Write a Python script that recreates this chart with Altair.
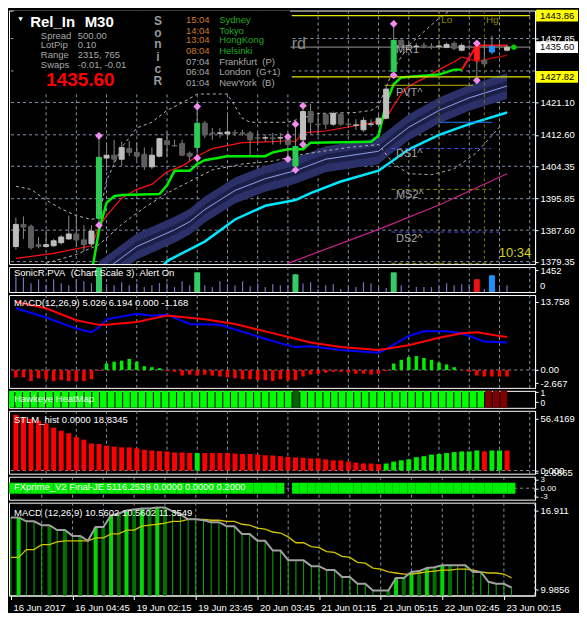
import altair as alt
import pandas as pd

W = 527
HM, HP, HMC, HH, HS, HF, HM2 = 254, 25, 93, 17, 63, 23, 93
XDOM = [-0.25, 68.05]
FONT = "Liberation Sans"
FS = 9.5
GRIDC = "#8796aa"
DASH = [3, 3]

# ---------------- data ----------------
bars = list(range(66))
date_ticks = [0, 8, 16, 24, 32, 40, 48, 56, 64]
date_labels = ["16 Jun 2017", "16 Jun 04:45", "19 Jun 02:15", "19 Jun 23:45",
               "20 Jun 03:45", "21 Jun 01:15", "21 Jun 05:15", "22 Jun 02:45", "23 Jun 00:15"]
grid_bars = list(range(4, 69, 4))
price_ticks = [1437.85, 1421.10, 1412.60, 1404.35, 1395.85, 1387.60, 1379.35]
grid_prices = [1437.85, 1429.35, 1421.10, 1412.60, 1404.35, 1395.85, 1387.60, 1379.35]

c_open = [1383.3, 1389.1, 1388.6, 1383.8, 1383.3, 1383.5, 1384.3, 1385.3, 1386.6, 1385.05,
          1384.0, 1390.7, 1406.5, 1407.25, 1406.2, 1409.0, 1408.0, 1407.5, 1404.2, 1407.0,
          1411.05, 1409.8, 1410.3, 1407.75, 1409.3, 1415.65, 1413.1, 1413.0, 1412.85, 1413.15,
          1413.1, 1413.1, 1411.8, 1411.75, 1411.8, 1411.75, 1411.6, 1404.4, 1411.3, 1418.7,
          1415.4, 1417.95, 1415.4, 1417.95, 1415.4, 1415.1, 1413.9, 1415.35, 1415.4, 1416.95,
          1429.2, 1437.35, 1436.05, 1435.75, 1436.05, 1435.8, 1435.8, 1435.55, 1436.6, 1434.8,
          1435.8, 1435.8, 1432.2, 1434.3, 1435.8, 1434.8]
c_high = [1390.9, 1391.2, 1389.1, 1385.8, 1387.6, 1385.3, 1386.3, 1391.4, 1391.4, 1388.9,
          1388.9, 1412.35, 1410.05, 1411.3, 1410.8, 1411.05, 1410.55, 1409.3, 1409.3, 1411.8,
          1413.35, 1411.3, 1411.3, 1408.25, 1420.0, 1416.2, 1414.4, 1414.4, 1417.95, 1413.9,
          1413.9, 1413.6, 1413.1, 1412.6, 1413.1, 1413.1, 1412.1, 1415.4, 1420.25, 1420.75,
          1417.95, 1418.2, 1418.7, 1418.45, 1416.7, 1416.7, 1417.2, 1416.7, 1418.2, 1425.35,
          1441.7, 1437.85, 1436.8, 1436.6, 1436.8, 1436.6, 1436.6, 1436.8, 1437.1, 1436.6,
          1436.3, 1436.6, 1437.35, 1438.6, 1437.6, 1436.3]
c_low = [1382.5, 1385.3, 1382.5, 1382.8, 1383.0, 1383.3, 1383.8, 1385.05, 1383.3, 1382.0,
         1383.3, 1388.9, 1403.2, 1405.2, 1404.4, 1407.0, 1405.95, 1403.4, 1403.65, 1406.7,
         1407.0, 1409.5, 1407.0, 1405.7, 1406.5, 1411.8, 1411.3, 1411.8, 1411.3, 1412.35,
         1412.35, 1407.0, 1410.55, 1410.8, 1410.05, 1410.05, 1406.2, 1403.4, 1410.05, 1412.6,
         1412.6, 1414.1, 1414.9, 1414.9, 1414.4, 1413.9, 1413.35, 1414.65, 1415.15, 1416.7,
         1428.2, 1435.55, 1435.3, 1435.05, 1435.3, 1435.05, 1435.3, 1435.3, 1434.8, 1434.5,
         1435.05, 1426.9, 1430.7, 1433.75, 1434.8, 1434.5]
c_close = [1389.1, 1388.4, 1383.0, 1383.3, 1383.8, 1384.8, 1385.8, 1386.6, 1385.05, 1383.8,
           1387.35, 1406.7, 1407.25, 1406.2, 1409.3, 1408.0, 1407.0, 1404.2, 1407.25, 1411.6,
           1410.05, 1409.7, 1407.25, 1407.0, 1415.65, 1412.6, 1413.0, 1413.1, 1413.35, 1413.05,
           1413.0, 1411.3, 1411.7, 1411.85, 1411.6, 1411.85, 1410.05, 1409.55, 1418.7, 1415.9,
           1415.3, 1415.4, 1418.2, 1415.4, 1415.3, 1415.2, 1416.4, 1415.45, 1416.95, 1424.6,
           1437.35, 1436.05, 1435.9, 1435.85, 1435.9, 1435.7, 1435.9, 1436.3, 1435.3, 1436.05,
           1435.7, 1432.2, 1431.2, 1435.8, 1435.7, 1435.6]
c_kind = ["bull", "bear", "bear", "bear", "bull", "bull", "bull", "bull", "bear", "bear",
          "bull", "green", "bull", "bear", "bull", "bear", "bear", "bear", "bull", "bull",
          "bear", "bear", "bear", "bear", "green", "bear", "bear", "bull", "bull", "bear",
          "bear", "bear", "bear", "bull", "bear", "bull", "bear", "green", "bull", "bear",
          "bear", "bear", "bull", "bear", "bear", "bull", "bull", "bull", "bull", "bull",
          "green", "bear", "bear", "bull", "bear", "bear", "bull", "bull", "bear", "bull",
          "bear", "red", "bear", "blue", "bear", "bull"]

dia_bars = [11, 11, 24, 24, 36, 36, 37, 37, 38, 38, 50, 50, 61, 61]
dia_prices = [1412.35, 1388.9, 1420.0, 1406.5, 1412.1, 1406.2, 1415.4, 1403.4,
              1420.25, 1410.05, 1441.7, 1428.2, 1436.6, 1426.9]

red_x = [0, 5, 10, 11, 12, 14, 16, 18, 20, 22, 24, 26, 30, 34, 36, 37, 38, 41, 44, 47,
         49, 50, 51, 52, 54, 56, 58, 59, 60]
red_v = [1380.2, 1381.5, 1383.5, 1388.4, 1391.4, 1396.0, 1398.3, 1399.6, 1402.9, 1404.4,
         1407.0, 1409.0, 1410.55, 1410.8, 1411.05, 1410.8, 1413.1, 1413.6, 1414.65, 1415.65,
         1416.95, 1420.25, 1423.3, 1425.35, 1427.4, 1429.7, 1431.75, 1433.0, 1432.5]
darkred_x = [60, 61, 62, 63, 64, 65]
darkred_v = [1432.5, 1431.75, 1432.25, 1432.75, 1433.0, 1433.5]
green_x = [10, 11, 12, 13, 14, 19, 20, 21, 23, 24, 25, 28, 33, 34, 36, 38, 39, 47, 48, 49,
           50, 51, 56, 58, 59]
green_v = [1376.0, 1387.6, 1394.75, 1396.5, 1396.8, 1397.05, 1399.35, 1403.15, 1403.15, 1404.95,
           1405.95, 1407.0, 1407.0, 1408.0, 1408.8, 1408.8, 1410.55, 1410.8, 1412.35, 1421.0,
           1425.85, 1427.65, 1428.4, 1429.7, 1429.7]
trail_x = [59, 61, 65]
trail_v = [1429.7, 1436.05, 1436.05]
cyan_x = [19, 20, 25, 29, 33, 37, 39, 43, 48, 52, 56, 60, 65]
cyan_v = [1377.0, 1379.5, 1384.6, 1390.4, 1394.0, 1395.5, 1397.3, 1400.35, 1403.2, 1408.8,
          1412.6, 1415.4, 1418.45]
magenta_x = [36, 48, 56, 65]
magenta_v = [1378.9, 1387.8, 1394.2, 1402.4]
band_x = [11, 13, 16, 21, 23, 25, 29, 33, 37, 41, 48, 49, 52, 56, 60, 65]
band_c = [1376.0, 1378.9, 1383.3, 1387.7, 1389.8, 1393.0, 1398.0, 1401.1, 1403.2, 1406.2,
          1408.3, 1410.0, 1414.6, 1419.0, 1422.3, 1425.4]
bb_up_x = [0, 2, 4, 6, 8, 10, 11, 12, 14, 16, 18, 20, 22, 24, 28, 30, 31, 36, 40, 45,
           47, 48, 50, 52, 56, 58]
bb_up_v = [1399.1, 1398.3, 1395.5, 1393.2, 1391.4, 1390.4, 1390.9, 1400.6, 1409.3, 1414.4,
           1415.9, 1419.0, 1421.0, 1423.3, 1423.3, 1416.9, 1415.9, 1415.9, 1418.2, 1418.45,
           1419.0, 1420.25, 1429.95, 1436.1, 1443.2, 1446.0]
bb_lo_x = [4, 8, 11, 14, 17, 20, 23, 26, 30, 34, 38, 44, 48, 50, 52, 55, 58, 61, 64]
bb_lo_v = [1378.9, 1381.2, 1383.8, 1389.1, 1393.5, 1397.3, 1400.35, 1403.4, 1404.95, 1405.7,
           1407.5, 1409.3, 1410.05, 1404.95, 1402.4, 1402.15, 1403.65, 1408.0, 1414.65]

lvl_solid_x1 = [36.5, 36.3, 36.5, 48.8, 56.0]
lvl_solid_x2 = [68.05, 68.05, 68.05, 60.5, 63.0]
lvl_solid_y = [1443.86, 1435.60, 1427.82, 1425.6, 1415.9]
lvl_solid_c = ["#e6e600", "#7a7a7a", "#e6e600", "#b4b400", "#1e7cff"]
lvl_dash_x1 = [49.7, 49.7, 49.7, 49.7]
lvl_dash_x2 = [62.9, 62.9, 63.9, 62.9]
lvl_dash_y = [1409.0, 1398.3, 1387.1, 1378.9]
lvl_dash_c = ["#4a4ae0", "#8b8b00", "#4a4ae0", "#8b8b00"]
olive_v_bars = [56, 62]

tag_p = [1443.86, 1435.60, 1427.82]
tag_bg = ["#ffff00", "#ffffff", "#ffff00"]

vol = [1040, 975, 585, 845, 455, 845, 585, 455, 845, 715,
       585, 1640, 520, 455, 650, 455, 585, 325, 455, 585,
       585, 325, 715, 455, 1300, 455, 325, 715, 520, 455,
       715, 390, 585, 325, 520, 455, 455, 1170, 585, 650,
       195, 455, 520, 195, 325, 325, 650, 585, 325, 260,
       1300, 455, 130, 325, 325, 325, 390, 585, 455, 520,
       520, 845, 195, 1105, 325, 455]
pva_big_bars = [11, 24, 37, 50, 61, 63]
pva_big_colors = ["#33cc66", "#33cc66", "#33cc66", "#33cc66", "#ee1111", "#1e90ff"]

macd_hist = [-1.49, -1.49, -2.24, -1.68, -1.87, -2.24, -2.05, -2.24, -2.24, -2.24,
             -1.87, -0.2, 1.31, 1.68, 1.87, 2.24, 1.68, 0.75, 0.56, 0.37,
             -0.19, -0.37, -1.12, -0.93, -1.12, -0.93, -1.12, -1.31, -1.49, -1.68,
             -1.87, -1.87, -2.05, -2.05, -2.24, -1.87, -2.05, -2.05, -1.31, -0.93,
             -0.75, -0.56, -0.37, -0.37, -0.56, -0.75, -0.75, -0.93, -0.75, -0.19,
             1.31, 2.05, 2.61, 2.80, 2.43, 2.05, 1.49, 1.12, 0.56, -0.1,
             -0.37, -1.12, -1.31, -1.31, -1.31, -1.31]
macd_red_x = [0, 4, 8, 11, 12, 16, 20, 25, 29, 33, 37, 39, 43, 48, 52, 56, 59, 61, 64, 65]
macd_red_v = [13.73, 12.44, 10.02, 9.09, 9.09, 9.65, 10.95, 10.21, 9.27, 7.78, 6.29, 5.54,
              4.61, 4.05, 4.98, 6.48, 7.41, 7.59, 6.85, 6.66]
macd_blue_x = [0, 4, 8, 10, 11, 12, 16, 18, 20, 23, 27, 31, 35, 37, 39, 43, 48, 49, 52, 54,
               57, 59, 62, 65]
macd_blue_v = [12.44, 10.58, 8.34, 7.6, 8.6, 10.21, 11.33, 10.95, 11.14, 9.27, 9.09, 7.22,
               5.36, 4.61, 4.8, 4.05, 3.49, 4.2, 6.85, 7.78, 7.78, 7.41, 5.73, 5.54]

heat_bars = list(range(65))
heat_dark_green = [37]
heat_dark_red = [62, 63, 64]

stlm = [60.5, 58.1, 56.4, 54.3, 51.2, 46.7, 43.3, 40.5, 36.3, 33.5,
        29.4, 28.8, 27.0, 26.0, 25.2, 25.2, 24.2, 22.5, 21.8, 21.1,
        20.8, 19.7, 19.7, 19.0, 19.0, 19.0, 19.0, 19.0, 19.0, 18.4,
        18.0, 18.0, 17.3, 16.6, 16.3, 15.6, 14.8, 14.2, 13.8, 13.2,
        13.2, 12.1, 11.1, 11.1, 9.7, 8.6, 7.6, 7.6, 7.0, 7.6,
        9.7, 11.1, 12.1, 14.5, 15.6, 17.3, 18.0, 19.0, 20.0, 20.8,
        20.8, 21.8, 20.8, 21.8, 21.8, 21.8]
stlm_green = [24, 49, 50, 51, 52, 53, 54, 55, 56, 57, 58, 59, 60, 61, 63, 64]

fx_bars = list(range(0, 36)) + list(range(37, 66))

m2_main = [16.31, 16.31, 15.97, 15.97, 15.63, 15.63, 15.20, 15.20, 14.69, 14.69,
           14.26, 15.46, 15.46, 16.48, 16.65, 16.91, 17.0, 17.08, 17.08, 17.17,
           17.17, 16.83, 16.57, 16.14, 16.14, 16.06, 15.89, 15.89, 15.54, 15.54,
           14.86, 14.86, 14.26, 14.26, 13.41, 13.41, 12.55, 12.55, 12.55, 12.04,
           12.04, 11.70, 11.70, 11.10, 11.10, 10.50, 10.50, 9.90, 9.90, 9.90,
           11.01, 11.01, 11.53, 11.61, 11.87, 11.95, 12.12, 12.12, 12.12, 12.12,
           11.53, 11.53, 10.67, 10.50, 10.50, 10.16]
m2_signal = [12.81, 12.81, 13.49, 13.49, 13.92, 13.92, 14.17, 14.26, 14.26, 14.26,
             14.26, 14.52, 14.52, 14.86, 14.86, 15.20, 15.20, 15.54, 15.63, 15.71,
             15.80, 15.97, 15.97, 16.14, 16.14, 16.14, 16.06, 16.06, 15.97, 15.97,
             15.71, 15.63, 15.37, 15.29, 15.03, 14.94, 14.60, 14.09, 14.09, 13.75,
             13.66, 13.32, 13.24, 12.89, 12.81, 12.38, 12.30, 11.87, 11.78, 11.53,
             11.44, 11.35, 11.35, 11.44, 11.53, 11.61, 11.70, 11.70, 11.78, 11.78,
             11.70, 11.53, 11.44, 11.44, 11.35, 11.01]
m2_thick_bright = [1, 11, 13, 15, 17, 19, 50, 52, 54, 56]
m2_thick_dark = [5, 7, 9, 12, 14, 16, 18, 20, 49, 51, 53, 55, 57]

info_x = [1.9, 9.1, 3.3, 8.2, 3.3, 8.2, 3.3, 8.2, 3.3, 8.2, 36.5,
          50.3, 50.3, 50.3, 50.3, 50.3, 56.3, 62.2, 63.9,
          22.5, 22.5, 22.5, 22.5, 22.5, 22.5, 22.5,
          26.9, 26.9, 26.9, 26.9, 26.9, 26.9, 26.9]
info_y = [1442.3, 1442.3, 1438.6, 1438.6, 1436.05, 1436.05, 1433.5, 1433.5, 1430.95, 1430.95, 1436.3,
          1434.8, 1423.55, 1407.5, 1396.8, 1385.3, 1442.7, 1442.7, 1381.5,
          1442.7, 1439.9, 1437.35, 1434.55, 1431.75, 1428.95, 1426.1,
          1442.7, 1439.9, 1437.35, 1434.55, 1431.75, 1428.95, 1426.1]
info_t = ["Rel_In", "M30", "Spread", "500.00", "LotPip", "0.10", "Range", "2315, 765",
          "Swaps", "-0.01, -0.01", "rd",
          "MR1", "PVT^", "DS1^", "MS2^", "DS2^", "Lo", "Hg", "10:34",
          "15:04", "14:04", "13:04", "08:04", "07:04", "06:04", "01:04",
          "Sydney", "Tokyo", "HongKong", "Helsinki", "Frankfurt\u00a0\u00a0(P)",
          "London\u00a0\u00a0(G+1)", "NewYork\u00a0\u00a0(B)"]
sonic_letters = ["S", "o", "n", "i", "c", "R"]
sonic_y = [1442.45, 1439.4, 1436.3, 1433.0, 1429.95, 1426.6]


# ---------------- axes & helpers ----------------
def raxis(values, expr=None, fmt=None, size=FS):
    kw = dict(orient="right", values=values, title=None, grid=False, labelColor="white",
              labelFont=FONT, labelFontSize=size, tickColor="white", tickSize=3,
              domainColor="white", labelPadding=2, labelOverlap=False, labelFlush=False)
    if expr:
        kw["labelExpr"] = expr
    if fmt:
        kw["format"] = fmt
    return alt.Axis(**kw)


XAXIS = alt.Axis(values=date_ticks, title=None, grid=False, orient="bottom",
                 labelExpr="[" + ",".join(f"'{d}'" for d in date_labels) + "][round(datum.value / 8)]",
                 labelAlign="left", labelColor="white", labelFont=FONT, labelFontSize=FS,
                 tickColor="white", tickSize=4, domainColor="white", labelPadding=3,
                 labelFlush=False, labelOverlap=False, labelOffset=2)

DOMS = {
    "main": [1378.7, 1445.2], "pva": [0, 1650], "macd": [-3.6, 15.1], "heat": [-0.6, 1.15],
    "stlm": [-3.5, 65.0], "fx": [-4.2, 4.2], "m2": [9.47, 17.6],
}
AXES = {
    "main": raxis(price_ticks, fmt=".2f"),
    "pva": raxis([1452], expr="'1452'"),
    "macd": raxis([13.758, 0, -2.667],
                  expr="datum.value == 0 ? '0.00' : (datum.value > 0 ? '13.758' : '-2.667')"),
    "heat": raxis([1, 0], expr="datum.value > 0.5 ? '1' : '0'", size=8.5),
    "stlm": raxis([56.4169, 0, -2.6865],
                  expr="datum.value == 0 ? '0.000' : (datum.value > 0 ? '56.4169' : '-2.6865')"),
    "fx": raxis([3, 0, -3], expr="datum.value == 0 ? '0.00' : (datum.value > 0 ? '3' : '-3')",
                size=8),
    "m2": raxis([16.911, 9.9856], expr="datum.value > 13 ? '16.911' : '9.9856'"),
}


def xq(field, panel):
    return alt.X(f"{field}:Q", scale=alt.Scale(domain=XDOM, nice=False, zero=False),
                 axis=XAXIS if panel == "m2" else None)


def yq(field, panel):
    return alt.Y(f"{field}:Q", scale=alt.Scale(domain=DOMS[panel], nice=False, zero=False),
                 axis=AXES[panel])


def vgrid(panel):
    return alt.Chart(pd.DataFrame({"g": grid_bars})).mark_rule(
        color=GRIDC, strokeDash=DASH, strokeWidth=1).encode(x=xq("g", panel))


def line(xs, vs, color, width, panel="main", dash=None):
    kw = dict(color=color, strokeWidth=width, clip=True)
    if dash:
        kw["strokeDash"] = dash
    return alt.Chart(pd.DataFrame({"bar": xs, "v": vs})).mark_line(**kw).encode(
        x=xq("bar", panel), y=yq("v", panel))


def zline(panel):
    return alt.Chart(pd.DataFrame({"z": [0]})).mark_rule(
        color="#8c8c8c", strokeDash=DASH).encode(y=yq("z", panel))


def ptitle(text, y):
    return alt.Chart(pd.DataFrame({"t": [text]})).mark_text(
        align="left", baseline="middle", font=FONT, fontSize=FS, color="white").encode(
        x=alt.value(5), y=alt.value(y), text="t:N")


# ---------------- main panel ----------------
P = "main"
hgrid = alt.Chart(pd.DataFrame({"p": grid_prices})).mark_rule(
    color=GRIDC, strokeDash=DASH, strokeWidth=1).encode(y=yq("p", P))

bdf = pd.DataFrame({"bar": band_x, "c": band_c})
bdf["lo"] = bdf.c - 3.4
bdf["hi"] = bdf.c + 3.4
bdf["lo2"] = bdf.c - 1.3
bdf["hi2"] = bdf.c + 1.3
band_out = alt.Chart(bdf).mark_area(color="#2b3068", clip=True).encode(
    x=xq("bar", P), y=yq("lo", P), y2=alt.Y2("hi"))
band_in = alt.Chart(bdf).mark_area(color="#1b1e45", clip=True).encode(
    x=xq("bar", P), y=yq("lo2", P), y2=alt.Y2("hi2"))
band_mid = alt.Chart(bdf).mark_line(color="#8fa2f0", strokeWidth=1, clip=True).encode(
    x=xq("bar", P), y=yq("c", P))

sdf = pd.DataFrame({"x1": lvl_solid_x1, "x2": lvl_solid_x2, "y": lvl_solid_y, "c": lvl_solid_c})
solid_lv = alt.Chart(sdf).mark_rule(strokeWidth=1.2, clip=True).encode(
    x=xq("x1", P), x2=alt.X2("x2"), y=yq("y", P), color=alt.Color("c:N", scale=None))
ddf = pd.DataFrame({"x1": lvl_dash_x1, "x2": lvl_dash_x2, "y": lvl_dash_y, "c": lvl_dash_c})
dash_lv = alt.Chart(ddf).mark_rule(strokeWidth=1, strokeDash=[4, 3], clip=True).encode(
    x=xq("x1", P), x2=alt.X2("x2"), y=yq("y", P), color=alt.Color("c:N", scale=None))
olive_v = alt.Chart(pd.DataFrame({"b": olive_v_bars})).mark_rule(
    color="#7a7a00", strokeDash=DASH, strokeWidth=1).encode(x=xq("b", P))

cdf = pd.DataFrame({"bar": bars, "o": c_open, "h": c_high, "l": c_low, "c": c_close, "k": c_kind})
kind_scale = alt.Scale(domain=["bull", "bear", "green", "red", "blue"],
                       range=["#bdbdbd", "#5e5e5e", "#2ecc55", "#ff1a1a", "#1e90ff"])
wicks = alt.Chart(cdf).mark_rule(color="#8a8a8a", strokeWidth=1, clip=True).encode(
    x=xq("bar", P), y=yq("l", P), y2=alt.Y2("h"))
bodies = alt.Chart(cdf).mark_bar(size=5, strokeWidth=1, clip=True).encode(
    x=xq("bar", P), y=yq("o", P), y2=alt.Y2("c"),
    color=alt.Color("k:N", scale=kind_scale, legend=None),
    stroke=alt.Stroke("k:N", scale=kind_scale, legend=None))
diamonds = alt.Chart(pd.DataFrame({"bar": dia_bars, "p": dia_prices})).mark_point(
    shape="diamond", filled=True, size=60, color="#f08cf0", opacity=1, clip=True).encode(
    x=xq("bar", P), y=yq("p", P))
dot = alt.Chart(pd.DataFrame({"bar": [65.9], "p": [1435.60]})).mark_point(
    shape="circle", filled=True, size=30, color="#00d000", opacity=1).encode(
    x=xq("bar", P), y=yq("p", P))

box = alt.Chart(pd.DataFrame({"x1": [-0.3], "x2": [36.3], "y1": [1423.6], "y2": [1446.0]})).mark_rect(
    color="black", clip=True).encode(x=xq("x1", P), x2=alt.X2("x2"), y=yq("y1", P), y2=alt.Y2("y2"))
tri = alt.Chart(pd.DataFrame({"bar": [0.63], "p": [1442.9]})).mark_point(
    shape="triangle-down", filled=True, size=22, color="white", opacity=1).encode(
    x=xq("bar", P), y=yq("p", P))

info_c = (["white", "white"] + ["#a8a8a8"] * 8 + ["#8c8c8c"]
          + ["#a8a8a8"] * 5 + ["#8b8b00", "#8b8b00", "#d4d418"]
          + ["#d07a2a"] * 4 + ["#a8a8a8"] * 3
          + ["#22aa22"] * 4 + ["#a8a8a8"] * 3)
info_s = ([15, 15] + [9.5] * 8 + [16] + [11] * 5 + [10, 10, 13] + [9.5] * 14)
info_b = ([True, True] + [False] * 31)
idf = pd.DataFrame({"x": info_x, "y": info_y, "t": info_t, "c": info_c, "s": info_s, "b": info_b})


def txt_layer(df, bold, align="left"):
    return alt.Chart(df).mark_text(align=align, baseline="middle", font=FONT,
                                   fontWeight="bold" if bold else "normal").encode(
        x=xq("x", P), y=yq("y", P), text="t:N",
        color=alt.Color("c:N", scale=None), size=alt.Size("s:Q", scale=None))


txt_norm = txt_layer(idf[~idf.b], False)
txt_bold = txt_layer(idf[idf.b], True)
big_price = txt_layer(pd.DataFrame({"x": [4.0], "y": [1427.1], "t": ["1435.60"],
                                    "c": ["#ff0000"], "s": [19]}), True)
sonic = txt_layer(pd.DataFrame({"x": [18.8] * 6, "y": sonic_y, "t": sonic_letters,
                                "c": ["#9a9a9a"] * 6, "s": [12] * 6}), True, align="center")

tdf = pd.DataFrame({"p": tag_p, "bg": tag_bg})
tdf["top"] = tdf.p + 1.55
tdf["bot"] = tdf.p - 1.55
tdf["t"] = tdf.p.map(lambda v: f"{v:.2f}")
tag_rect = alt.Chart(tdf).mark_rect().encode(
    x=alt.value(W + 1), x2=alt.value(W + 43), y=yq("top", P), y2=alt.Y2("bot"),
    color=alt.Color("bg:N", scale=None))
tag_text = alt.Chart(tdf).mark_text(align="left", baseline="middle", font=FONT,
                                    fontSize=FS, color="black").encode(
    x=alt.value(W + 5), y=yq("p", P), text="t:N")

main = alt.layer(
    vgrid(P), hgrid, band_out, band_in, band_mid,
    line(bb_up_x, bb_up_v, "#b4b4b4", 1, dash=DASH),
    line(bb_lo_x, bb_lo_v, "#b4b4b4", 1, dash=DASH),
    line(magenta_x, magenta_v, "#c8208c", 1.2),
    line(cyan_x, cyan_v, "#00e8ff", 2.5),
    line(red_x, red_v, "#ff1010", 1.2),
    line(darkred_x, darkred_v, "#b00000", 1.5),
    line(green_x, green_v, "#00ee00", 2.5),
    line(trail_x, trail_v, "#ff1010", 2),
    solid_lv, dash_lv, olive_v, wicks, bodies, diamonds, dot,
    box, tri, txt_norm, txt_bold, big_price, sonic, tag_rect, tag_text
).properties(width=W, height=HM)

# ---------------- PVA panel ----------------
P = "pva"
vdf = pd.DataFrame({"bar": bars, "v": vol})
big_df = pd.DataFrame({"bar": pva_big_bars, "v": [vol[i] for i in pva_big_bars], "c": pva_big_colors})
pva = alt.layer(
    vgrid(P),
    alt.Chart(vdf).mark_bar(size=1.2, color="#7474c0").encode(x=xq("bar", P), y=yq("v", P)),
    alt.Chart(big_df).mark_bar(size=6).encode(
        x=xq("bar", P), y=yq("v", P), color=alt.Color("c:N", scale=None)),
    ptitle("SonicR PVA\u00a0\u00a0(Chart Scale 3)\u00a0\u00a0Alert On", 6),
    alt.Chart(pd.DataFrame({"t": ["0"]})).mark_text(
        align="left", baseline="middle", font=FONT, fontSize=FS, color="white").encode(
        x=alt.value(W + 5), y=alt.value(HP - 6), text="t:N"),
).properties(width=W, height=HP)

# ---------------- MACD panel ----------------
P = "macd"
mdf = pd.DataFrame({"bar": bars, "v": macd_hist})
mdf["c"] = ["#00ee00" if v >= 0 else "#ff0000" for v in macd_hist]
macd = alt.layer(
    vgrid(P), zline(P),
    alt.Chart(mdf).mark_bar(size=3.5).encode(
        x=xq("bar", P), y=yq("v", P), y2=alt.Y2(datum=0), color=alt.Color("c:N", scale=None)),
    line(macd_blue_x, macd_blue_v, "#0000ff", 2, panel=P),
    line(macd_red_x, macd_red_v, "#ff0000", 2, panel=P),
    ptitle("MACD(12,26,9) 5.026 6.194 0.000 -1.168", 8),
).properties(width=W, height=HMC)

# ---------------- Heatmap panel ----------------
P = "heat"
hdf = pd.DataFrame({"bar": heat_bars})
hdf["x1"] = hdf.bar - 0.43
hdf["x2"] = hdf.bar + 0.43
hdf["y1"] = DOMS[P][0]
hdf["y2"] = DOMS[P][1]
hdf["c"] = ["#006400" if b in heat_dark_green else ("#800000" if b in heat_dark_red else "#00ff00")
            for b in heat_bars]
heat = alt.layer(
    alt.Chart(hdf).mark_rect(clip=True).encode(
        x=xq("x1", P), x2=alt.X2("x2"), y=yq("y1", P), y2=alt.Y2("y2"),
        color=alt.Color("c:N", scale=None)),
    ptitle("Hawkeye HeatMap", HH / 2),
).properties(width=W, height=HH)

# ---------------- STLM panel ----------------
P = "stlm"
stdf = pd.DataFrame({"bar": bars, "v": stlm})
stdf["c"] = ["#00ee00" if b in stlm_green else "#ff0000" for b in bars]
stlm_p = alt.layer(
    vgrid(P), zline(P),
    alt.Chart(stdf).mark_bar(size=5).encode(
        x=xq("bar", P), y=yq("v", P), y2=alt.Y2(datum=0), color=alt.Color("c:N", scale=None)),
    ptitle("STLM_hist 0.0000 18.8345", 9),
).properties(width=W, height=HS)

# ---------------- FX panel ----------------
P = "fx"
fdf = pd.DataFrame({"bar": fx_bars})
fdf["x1"] = fdf.bar - 0.5
fdf["x2"] = fdf.bar + 0.5
fdf["y1"] = -2.0
fdf["y2"] = 2.0
fx = alt.layer(
    vgrid(P), zline(P),
    alt.Chart(fdf).mark_rect(color="#00ee00", clip=True).encode(
        x=xq("x1", P), x2=alt.X2("x2"), y=yq("y1", P), y2=alt.Y2("y2")),
    ptitle("FXprime_V2 Final-JE 5116.2539 0.0000 0.0000 0.2000", 10),
).properties(width=W, height=HF)

# ---------------- MACD 2 panel ----------------
P = "m2"
m2df = pd.DataFrame({"bar": bars, "v": m2_main})
m2b = pd.DataFrame({"bar": m2_thick_bright, "v": [m2_main[i] for i in m2_thick_bright]})
m2d = pd.DataFrame({"bar": m2_thick_dark, "v": [m2_main[i] for i in m2_thick_dark]})
macd2 = alt.layer(
    vgrid(P),
    alt.Chart(m2df).mark_rule(color="#00b400", strokeWidth=1).encode(
        x=xq("bar", P), y=yq("v", P), y2=alt.value(HM2)),
    alt.Chart(m2d).mark_rule(color="#007000", strokeWidth=4).encode(
        x=xq("bar", P), y=yq("v", P), y2=alt.value(HM2)),
    alt.Chart(m2b).mark_rule(color="#00d800", strokeWidth=4).encode(
        x=xq("bar", P), y=yq("v", P), y2=alt.value(HM2)),
    line(bars, m2_signal, "#d4c400", 1.3, panel=P),
    line(bars, m2_main, "#a0a0a0", 2, panel=P),
    ptitle("MACD (12,26,9) 10.5602 10.5602 11.3549", 10),
).properties(width=W, height=HM2)

chart = alt.vconcat(main, pva, macd, heat, stlm_p, fx, macd2, spacing=3, bounds="flush").properties(
    background="black", padding={"left": 0, "right": 0, "top": 0, "bottom": 0}
).configure_view(stroke="white", strokeWidth=1, fill="black")

chart.save("out.html", embed_options={"renderer": "svg", "actions": False})
